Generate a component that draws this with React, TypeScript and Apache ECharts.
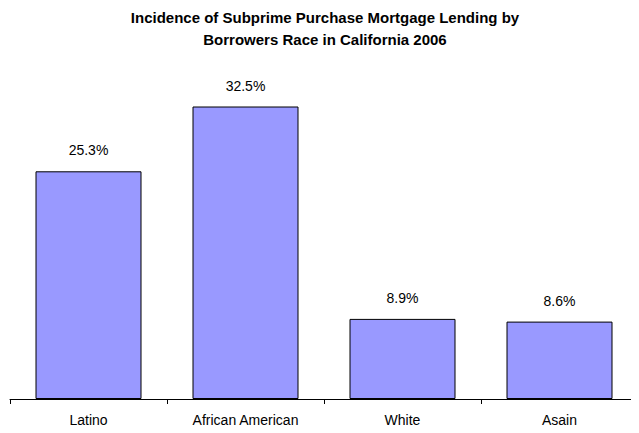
import React, { useEffect, useRef } from "react";
import * as echarts from "echarts";

const categories = ["Latino", "African American", "White", "Asain"];
const values = [25.3, 32.5, 8.9, 8.6];
const titleLines = [
  "Incidence of Subprime Purchase Mortgage Lending by",
  "Borrowers Race in California 2006",
];

export default function App() {
  const ref = useRef<HTMLDivElement>(null);
  useEffect(() => {
    const chart = echarts.init(ref.current!, null, { renderer: "svg" });
    chart.setOption({
      animation: false,
      backgroundColor: "#ffffff",
      title: {
        text: titleLines.join("\n"),
        left: 320,
        textAlign: "center",
        top: 1,
        textStyle: {
          fontFamily: "Liberation Sans, Arial, sans-serif",
          fontSize: 15,
          fontWeight: "bold",
          color: "#000",
          lineHeight: 22,
        },
      },
      grid: { left: 10, right: 1, top: 84, bottom: 34 },
      xAxis: {
        type: "category",
        data: categories,
        axisLine: { lineStyle: { color: "#000", width: 1 } },
        axisTick: { show: true, length: 5, alignWithLabel: false, lineStyle: { color: "#000" } },
        axisLabel: {
          fontFamily: "Liberation Sans, Arial, sans-serif",
          fontSize: 14,
          color: "#000",
          margin: 14,
        },
      },
      yAxis: {
        type: "value",
        min: 0,
        max: 35,
        show: false,
        splitLine: { show: false },
      },
      series: [
        {
          type: "bar",
          data: values,
          barWidth: 106,
          itemStyle: { color: "#9999FF", borderColor: "#000", borderWidth: 1 },
          label: {
            show: true,
            position: "top",
            distance: 14,
            formatter: (p: any) => p.value.toFixed(1) + "%",
            fontFamily: "Liberation Sans, Arial, sans-serif",
            fontSize: 14,
            color: "#000",
          },
        },
      ],
    });
    return () => chart.dispose();
  }, []);
  return <div ref={ref} style={{ width: 639, height: 433, margin: -8 }} />;
}
